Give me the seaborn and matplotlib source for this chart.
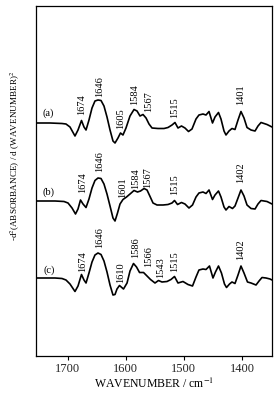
import numpy as np
import pandas as pd
import matplotlib
matplotlib.use("Agg")
import matplotlib.pyplot as plt
import seaborn as sns

# ---- data ----
wn_a = [1754.6, 1730.5, 1709.9, 1703.0, 1696.1, 1687.5, 1682.3, 1676.3, 1672.0, 1668.5,
        1663.4, 1658.2, 1653.1, 1647.9, 1642.7, 1637.6, 1632.4, 1627.2, 1622.1, 1618.6,
        1613.5, 1609.2, 1604.9, 1599.7, 1592.8, 1585.9, 1580.7, 1575.6, 1570.4, 1565.2,
        1560.1, 1554.9, 1544.6, 1534.3, 1527.4, 1520.5, 1515.4, 1510.2, 1504.2, 1498.2,
        1492.1, 1486.1, 1479.2, 1474.1, 1467.2, 1462.0, 1456.8, 1450.8, 1446.5, 1440.5,
        1436.2, 1431.0, 1427.6, 1422.4, 1417.3, 1412.1, 1406.9, 1401.8, 1396.6, 1391.4,
        1384.5, 1377.6, 1372.5, 1367.3, 1362.1, 1357.0, 1351.8, 1348.4]
int_a = [0, 0, -0.5, -1, -4, -13, -7, 2.5, -4, -7,
         3, 15, 22, 23, 22.5, 17, 6, -7, -18, -20,
         -15, -10, -12, -5, 7, 13.5, 12, 7, 8.5, 5,
         -1, -5, -5.5, -5.5, -4.5, -2, 0.5, -5, -3, -5,
         -8.5, -6, 4, 8, 9, 8, 11.5, 0, 6, 10.5,
         4, -8, -12, -8, -5.5, -6.5, 3, 11.5, 5, -4.5,
         -7, -8, -3, 0.5, -0.5, -1.5, -3, -4]

wn_b = [1754.6, 1721.9, 1706.4, 1699.5, 1692.6, 1686.6, 1682.3, 1678.0, 1673.7, 1668.5,
        1663.4, 1658.2, 1653.1, 1647.9, 1642.7, 1637.6, 1632.4, 1627.2, 1622.1, 1618.6,
        1614.3, 1610.0, 1604.9, 1598.8, 1592.8, 1585.9, 1579.9, 1574.7, 1568.6, 1563.5,
        1558.3, 1553.2, 1546.3, 1535.9, 1527.4, 1520.5, 1516.2, 1511.0, 1504.2, 1498.2,
        1491.3, 1485.2, 1479.2, 1474.1, 1467.2, 1462.0, 1456.8, 1450.8, 1446.5, 1440.5,
        1436.2, 1431.0, 1427.6, 1422.4, 1416.4, 1412.1, 1406.9, 1401.8, 1396.6, 1391.4,
        1384.5, 1377.6, 1372.5, 1367.3, 1362.1, 1357.0, 1351.8, 1348.4]
int_b = [0, 0, -0.5, -2, -7, -13, -8, 1, -3, -6.5,
         2, 13, 20.5, 23, 22.5, 17, 7, -5, -17, -20,
         -12, -3, 1.5, 4, 7, 10.5, 9, 10, 12.5, 11,
         4.5, -2, -4, -4, -3.5, -2, 0.5, -3.5, -1.5, -3,
         -7, -4, 4, 8, 9, 7.5, 11, 1.5, 6, 10,
         4, -6, -9, -5.5, -7.5, -5, 3, 11, 5, -4,
         -7.5, -8, -3, 0.5, 0, -0.5, -2, -3]

wn_c = [1754.6, 1721.9, 1709.9, 1703.0, 1696.1, 1687.5, 1682.3, 1676.3, 1672.0, 1668.5,
        1663.4, 1658.2, 1653.1, 1647.9, 1642.7, 1637.6, 1632.4, 1627.2, 1622.1, 1618.6,
        1615.2, 1610.9, 1604.0, 1597.9, 1592.8, 1586.8, 1581.6, 1576.4, 1569.5, 1563.5,
        1557.5, 1549.8, 1543.8, 1537.8, 1529.1, 1522.3, 1516.2, 1510.2, 1501.6, 1493.0,
        1485.2, 1479.2, 1474.1, 1467.2, 1462.0, 1456.0, 1450.0, 1445.7, 1440.5, 1435.4,
        1430.2, 1426.7, 1421.5, 1417.3, 1412.1, 1406.9, 1401.8, 1396.6, 1390.6, 1384.5,
        1375.9, 1370.7, 1365.6, 1358.7, 1351.8, 1348.4]
int_c = [0, 0, -0.5, -2, -6, -13.5, -8, 3.5, -2, -5,
         5, 16, 23, 25, 23.5, 17, 6, -7, -17, -16.5,
         -11, -7.5, -11, -5, 7, 14.5, 11, 5.5, 5.5, 2,
         -1.5, -5, -2.5, -4, -3.5, -1.5, 1.5, -5, -3.5, -6.5,
         -8, 1, 8, 9, 8.5, 12, 0, 6, 12, 5,
         -6, -9.5, -6, -4, -5.5, 3, 12, 5, -4, -5,
         -7, -3, 0.5, 0, -1, -2]

curve_names = ["(a)", "(b)", "(c)"]

labels_a = ["1674", "1646", "1605", "1584", "1567", "1515", "1401"]
labels_b = ["1674", "1646", "1601", "1584", "1567", "1515", "1402"]
labels_c = ["1674", "1646", "1610", "1586", "1566", "1543", "1515", "1402"]

x_ticks = [1700, 1600, 1500, 1400]

# ---- layout / positions (not data) ----
offsets = [233, 155, 78]
lab_x_a = [1676.0, 1645.6, 1609.2, 1585.1, 1561.3, 1515.4, 1402.3]
lab_y_a = [241, 259, 227, 251, 244, 238, 251]
lab_x_b = [1674.2, 1644.4, 1604.9, 1582.5, 1561.8, 1515.4, 1402.3]
lab_y_b = [163, 184, 158, 167, 168, 161, 173]
lab_x_c = [1674.2, 1645.6, 1608.3, 1582.5, 1561.0, 1540.3, 1516.2, 1402.3]
lab_y_c = [84, 108, 73, 98, 89, 78, 84, 96]
name_pos = [(1733.9, 243), (1733.4, 164), (1732.2, 86)]

sns.set_theme(style="white")
plt.rcParams['font.family'] = ['Liberation Serif', 'DejaVu Serif']
plt.rcParams['mathtext.fontset'] = 'stix'

fig = plt.figure(figsize=(2.8, 4.0), dpi=100)
ax = fig.add_axes([36/280, 1-356/400, (272-36)/280, (356-6)/400])

frames = []
for name, wn, iv, off in zip(curve_names, [wn_a, wn_b, wn_c], [int_a, int_b, int_c], offsets):
    frames.append(pd.DataFrame({"wn": wn, "y": np.array(iv) + off, "curve": name}))
df = pd.concat(frames, ignore_index=True)

sns.lineplot(data=df, x="wn", y="y", units="curve", estimator=None, color="black",
             linewidth=1.2, ax=ax, legend=False)

ax.set_xlim(1754.6, 1348.4)
ax.set_ylim(0, 350)
ax.set_xticks(x_ticks)
ax.set_xticklabels([str(t) for t in x_ticks], fontsize=9)
ax.set_yticks([])
ax.tick_params(axis="x", direction="out", length=3, width=0.8, color="black", pad=2,
               bottom=True)
for s in ax.spines.values():
    s.set_color("black")
    s.set_linewidth(0.9)

ax.set_xlabel("WAVENUMBER / cm$^{-1}$", fontsize=8.5, labelpad=1, color="black")
ax.set_ylabel("")
fig.text(15/280, 1-156/400, "-d$^2$(ABSORBANCE) / d (WAVENUMBER)$^2$", rotation=90,
         ha="center", va="center", fontsize=6.6, color="black")

for labs, xs, ys in [(labels_a, lab_x_a, lab_y_a), (labels_b, lab_x_b, lab_y_b),
                     (labels_c, lab_x_c, lab_y_c)]:
    for t, x, y in zip(labs, xs, ys):
        ax.text(x, y, t, rotation=90, ha="center", va="bottom", fontsize=7.5, color="black")

for name, (x, y) in zip(curve_names, name_pos):
    ax.text(x, y, name, ha="center", va="center", fontsize=7.5, color="black")

fig.savefig("out.png", dpi=100, facecolor="white")
